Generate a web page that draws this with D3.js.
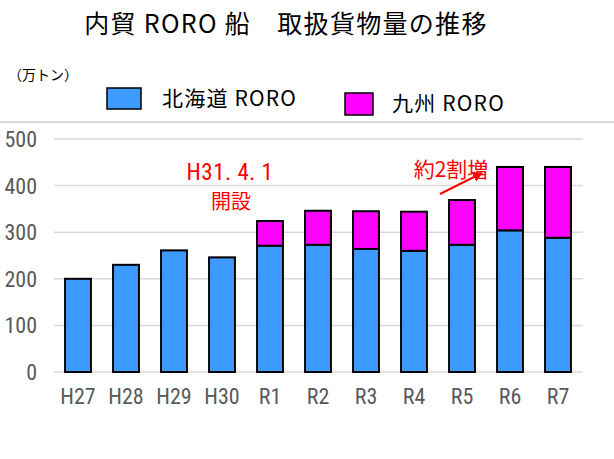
<!DOCTYPE html>
<html>
<head>
<meta charset="utf-8">
<script src="https://cdn.jsdelivr.net/npm/d3@7"></script>
<style>
  body { margin: 0; background: #fff; }
  #chart-container { width: 614px; height: 459px; }
  text { font-family: "Noto Sans CJK JP", "Noto Sans", sans-serif; }
  .num { font-family: "Liberation Sans Narrow", "Roboto Condensed", "Liberation Sans", sans-serif; }
</style>
</head>
<body>
<div id="chart-container"></div>
<script>
const categories = ['H27', 'H28', 'H29', 'H30', 'R1', 'R2', 'R3', 'R4', 'R5', 'R6', 'R7'];
const hokkaido = [200, 230, 261, 246, 271, 273, 264, 260, 273, 304, 288];
const kyushu = [0, 0, 0, 0, 53, 73, 81, 84, 96, 136, 152];
const yTicks = [0, 100, 200, 300, 400, 500];
const seriesNames = ['北海道 RORO', '九州 RORO'];
const colors = ['#3d9bff', '#ff00ff'];

const width = 614, height = 459;
const svg = d3.select('#chart-container')
    .append('svg')
    .attr('width', width)
    .attr('height', height);

const x = d3.scaleBand()
    .domain(categories)
    .range([54, 582])
    .paddingInner(0.46)
    .paddingOuter(0.23);

const y = d3.scaleLinear()
    .domain([0, 500])
    .range([372, 139]);

// separator under legend
svg.append('line')
    .attr('x1', 0).attr('x2', width)
    .attr('y1', 122).attr('y2', 122)
    .attr('stroke', '#d9d9d9')
    .attr('stroke-width', 2);

// grid
svg.append('g')
    .selectAll('line')
    .data(yTicks)
    .enter().append('line')
    .attr('x1', 54).attr('x2', 583)
    .attr('y1', d => y(d)).attr('y2', d => y(d))
    .attr('stroke', '#d9d9d9')
    .attr('stroke-width', 1.5);

// y labels
svg.append('g')
    .selectAll('text')
    .data(yTicks)
    .enter().append('text')
    .attr('class', 'num')
    .attr('x', 37)
    .attr('y', d => y(d))
    .attr('dy', '0.36em')
    .attr('text-anchor', 'end')
    .attr('fill', '#595959')
    .style('font-size', '22px')
    .text(d => d);

// x labels
svg.append('g')
    .selectAll('text')
    .data(categories)
    .enter().append('text')
    .attr('class', 'num')
    .attr('x', d => x(d) + x.bandwidth() / 2)
    .attr('y', 404)
    .attr('text-anchor', 'middle')
    .attr('fill', '#595959')
    .style('font-size', '22px')
    .text(d => d);

// stacked bars
const rows = categories.map((c, i) => ({ cat: c, hokkaido: hokkaido[i], kyushu: kyushu[i] }));
const stack = d3.stack().keys(['hokkaido', 'kyushu'])(rows);

svg.append('g')
    .selectAll('g')
    .data(stack)
    .enter().append('g')
    .attr('fill', (d, i) => colors[i])
    .selectAll('rect')
    .data(d => d.filter(p => p[1] > p[0]))
    .enter().append('rect')
    .attr('x', d => x(d.data.cat))
    .attr('y', d => y(d[1]))
    .attr('width', x.bandwidth())
    .attr('height', d => y(d[0]) - y(d[1]))
    .attr('stroke', '#000')
    .attr('stroke-width', 2);

// title
svg.append('text')
    .attr('x', 286)
    .attr('y', 33)
    .attr('text-anchor', 'middle')
    .attr('fill', '#000')
    .style('font-size', '25px')
    .style('letter-spacing', '1.3px')
    .text('内貿 RORO 船\u3000取扱貨物量の推移');

// unit
svg.append('text')
    .attr('x', 8)
    .attr('y', 80)
    .attr('fill', '#000')
    .style('font-size', '14px')
    .text('（万トン）');

// legend
const legend = [
    { rx: 107, ry: 88, rw: 34, rh: 21, tx: 162, ty: 106 },
    { rx: 345, ry: 93, rw: 28, rh: 22, tx: 392, ty: 111 }
];
legend.forEach((l, i) => {
    svg.append('rect')
        .attr('x', l.rx).attr('y', l.ry)
        .attr('width', l.rw).attr('height', l.rh)
        .attr('fill', colors[i])
        .attr('stroke', '#000')
        .attr('stroke-width', 1.5);
    svg.append('text')
        .attr('x', l.tx).attr('y', l.ty)
        .attr('fill', '#000')
        .style('font-size', '21px')
        .style('letter-spacing', '1.2px')
        .text(seriesNames[i]);
});

// annotations
svg.append('text')
    .attr('class', 'num')
    .attr('x', 230).attr('y', 180)
    .attr('text-anchor', 'middle')
    .attr('fill', '#ff0000')
    .style('font-size', '23px')
    .style('letter-spacing', '0.5px')
    .text('H31. 4. 1');
svg.append('text')
    .attr('x', 231).attr('y', 209)
    .attr('text-anchor', 'middle')
    .attr('fill', '#ff0000')
    .style('font-size', '20px')
    .text('開設');
svg.append('text')
    .attr('x', 451).attr('y', 177)
    .attr('text-anchor', 'middle')
    .attr('fill', '#ff0000')
    .style('font-size', '21px')
    .text('約2割増');

svg.append('defs').append('marker')
    .attr('id', 'arrow')
    .attr('viewBox', '0 0 10 10')
    .attr('refX', 9).attr('refY', 5)
    .attr('markerWidth', 5).attr('markerHeight', 5)
    .attr('orient', 'auto')
    .append('path')
    .attr('d', 'M0,0 L10,5 L0,10 z')
    .attr('fill', '#ff0000');

svg.append('line')
    .attr('x1', 440).attr('y1', 194)
    .attr('x2', 482).attr('y2', 173)
    .attr('stroke', '#ff0000')
    .attr('stroke-width', 2)
    .attr('marker-end', 'url(#arrow)');
</script>
</body>
</html>
